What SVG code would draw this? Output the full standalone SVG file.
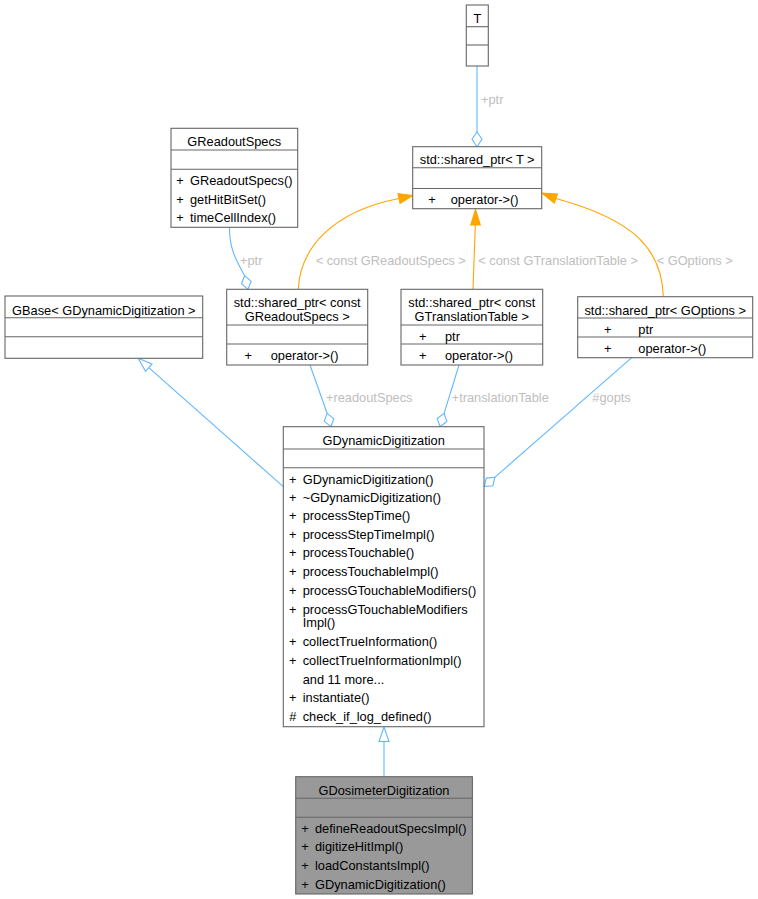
<svg xmlns="http://www.w3.org/2000/svg" width="758" height="899" viewBox="0 0 758 899">
<style>
text{font-family:"Liberation Sans",Arial,Helvetica,sans-serif;font-size:12.8px;fill:#000}
.box{fill:#fff;stroke:#666;stroke-width:1.1}
.sel{fill:#999;stroke:#666;stroke-width:1.1}
.sep{stroke:#666;stroke-width:1.1}
.t{text-anchor:middle}
.pl{text-anchor:middle}
.bl{fill:none;stroke:#63b8ff;stroke-width:1.1}
.or{fill:none;stroke:#ffa500;stroke-width:1.1}
.dia{fill:#fff;stroke:#63b8ff;stroke-width:1.1}
.tri{fill:#fff;stroke:#63b8ff;stroke-width:1.1}
.otri{fill:#ffa500;stroke:#ffa500;stroke-width:1.1}
.lbl{fill:#bebebe}
</style>
<rect width="758" height="899" fill="#fff"/>
<g id="connectors">
  <!-- T -> shared_ptr<T> -->
  <path class="bl" d="M477,66 L477,132"/>
  <polygon class="dia" points="477,146.7 482,139.3 477,132 472,139.3"/>
  <text class="lbl" x="481" y="103.5">+ptr</text>
  <!-- GReadoutSpecs -> shared_ptr<const GReadoutSpecs> -->
  <path class="bl" d="M229.5,227.3 C229,250 238,263 244.6,275.7"/>
  <polygon class="dia" points="248,289.3 251.2,281.3 244.6,275.7 241.5,283.7"/>
  <text class="lbl" x="240" y="264.5">+ptr</text>
  <!-- shared_ptr<const GReadoutSpecs> -> shared_ptr<T> -->
  <path class="or" d="M298.3,289.3 C300,250 330,212 399,198.5"/>
  <polygon class="otri" points="412.7,195.5 400.1,203.4 397.9,193.6"/>
  <text class="lbl" x="315.7" y="264.5">&lt; const GReadoutSpecs &gt;</text>
  <!-- shared_ptr<const GTranslationTable> -> shared_ptr<T> -->
  <path class="or" d="M473,289.3 L475.3,225"/>
  <polygon class="otri" points="475.5,209.5 480.3,225 470.8,225"/>
  <text class="lbl" x="478.3" y="264.5">&lt; const GTranslationTable &gt;</text>
  <!-- shared_ptr<GOptions> -> shared_ptr<T> -->
  <path class="or" d="M663.3,296.7 C662,250 635,220 556,198.5"/>
  <polygon class="otri" points="541.7,193 557.4,194 554.3,203"/>
  <text class="lbl" x="656.7" y="264.5">&lt; GOptions &gt;</text>
  <!-- readoutSpecs -->
  <path class="bl" d="M310,365 L327.1,413.3"/>
  <polygon class="dia" points="331,426.7 333.8,418.6 327.1,413.3 324.2,421.4"/>
  <text class="lbl" x="326" y="401.8">+readoutSpecs</text>
  <!-- translationTable -->
  <path class="bl" d="M459,365 L444.1,413.3"/>
  <polygon class="dia" points="440,426.7 446.8,421.5 444.1,413.3 437.2,418.5"/>
  <text class="lbl" x="451.7" y="401.8">+translationTable</text>
  <!-- gopts -->
  <path class="bl" d="M631.7,357.7 L494.8,477.3"/>
  <polygon class="dia" points="484.3,486.5 492.9,485.7 494.8,477.3 486.3,478.1"/>
  <text class="lbl" x="592.3" y="402">#gopts</text>
  <!-- GDynamicDigitization -> GBase -->
  <path class="bl" d="M283.3,486.7 L148.8,367.6"/>
  <polygon class="tri" points="138.3,358.3 152.1,363.9 145.5,371.3"/>
  <!-- GDosimeterDigitization -> GDynamicDigitization -->
  <path class="bl" d="M384,776.7 L384,741.5"/>
  <polygon class="tri" points="384,727 389,741.5 379,741.5"/>
</g>
<g id="node-T">
  <rect class="box" x="466.3" y="5" width="22" height="61"/>
  <line class="sep" x1="466.3" y1="26.7" x2="488.3" y2="26.7"/>
  <line class="sep" x1="466.3" y1="45" x2="488.3" y2="45"/>
  <text class="t" x="477.3" y="22.5">T</text>
</g>
<g id="node-shared_ptr_T">
  <rect class="box" x="412.7" y="146.7" width="129" height="62"/>
  <line class="sep" x1="412.7" y1="167.7" x2="541.7" y2="167.7"/>
  <line class="sep" x1="412.7" y1="188.5" x2="541.7" y2="188.5"/>
  <text class="t" x="477.2" y="163.7">std::shared_ptr&lt; T &gt;</text>
  <text class="pl" x="432" y="203.5">+</text>
  <text x="450.7" y="203.5">operator-&gt;()</text>
</g>
<g id="node-GReadoutSpecs">
  <rect class="box" x="171" y="128.3" width="126.7" height="99"/>
  <line class="sep" x1="171" y1="150" x2="297.7" y2="150"/>
  <line class="sep" x1="171" y1="169.3" x2="297.7" y2="169.3"/>
  <text class="t" x="234.3" y="146">GReadoutSpecs</text>
  <text class="pl" x="180" y="184.7">+</text>
  <text x="190" y="184.7">GReadoutSpecs()</text>
  <text class="pl" x="180" y="203.5">+</text>
  <text x="190" y="203.5">getHitBitSet()</text>
  <text class="pl" x="180" y="222">+</text>
  <text x="190" y="222">timeCellIndex()</text>
</g>
<g id="node-shared_ptr_GReadoutSpecs">
  <rect class="box" x="226.7" y="289.3" width="141" height="75.7"/>
  <line class="sep" x1="226.7" y1="325" x2="367.7" y2="325"/>
  <line class="sep" x1="226.7" y1="344" x2="367.7" y2="344"/>
  <text class="t" x="297.2" y="307">std::shared_ptr&lt; const</text>
  <text class="t" x="297.2" y="321">GReadoutSpecs &gt;</text>
  <text class="pl" x="248.3" y="359.5">+</text>
  <text x="270.7" y="359.5">operator-&gt;()</text>
</g>
<g id="node-shared_ptr_GTranslationTable">
  <rect class="box" x="401" y="289.3" width="141.7" height="75.7"/>
  <line class="sep" x1="401" y1="325" x2="542.7" y2="325"/>
  <line class="sep" x1="401" y1="344" x2="542.7" y2="344"/>
  <text class="t" x="471.8" y="307">std::shared_ptr&lt; const</text>
  <text class="t" x="471.8" y="321">GTranslationTable &gt;</text>
  <text class="pl" x="422.7" y="341">+</text>
  <text x="445" y="341">ptr</text>
  <text class="pl" x="422.7" y="360">+</text>
  <text x="445" y="360">operator-&gt;()</text>
</g>
<g id="node-shared_ptr_GOptions">
  <rect class="box" x="577.7" y="296.7" width="175" height="61"/>
  <line class="sep" x1="577.7" y1="318" x2="752.7" y2="318"/>
  <line class="sep" x1="577.7" y1="337" x2="752.7" y2="337"/>
  <text class="t" x="665.2" y="314.5">std::shared_ptr&lt; GOptions &gt;</text>
  <text class="pl" x="607.7" y="333.7">+</text>
  <text x="638.3" y="333.7">ptr</text>
  <text class="pl" x="607.7" y="352.7">+</text>
  <text x="638.3" y="352.7">operator-&gt;()</text>
</g>
<g id="node-GBase">
  <rect class="box" x="5" y="296" width="197.7" height="62.3"/>
  <line class="sep" x1="5" y1="317.7" x2="202.7" y2="317.7"/>
  <line class="sep" x1="5" y1="336.7" x2="202.7" y2="336.7"/>
  <text class="t" x="103.8" y="314.5">GBase&lt; GDynamicDigitization &gt;</text>
</g>
<g id="node-GDynamicDigitization">
  <rect class="box" x="283.3" y="426.7" width="200.7" height="300"/>
  <line class="sep" x1="283.3" y1="449" x2="484" y2="449"/>
  <line class="sep" x1="283.3" y1="467.7" x2="484" y2="467.7"/>
  <text class="t" x="383.7" y="445">GDynamicDigitization</text>
  <text class="pl" x="292.7" y="483.5">+</text><text x="302.7" y="483.5">GDynamicDigitization()</text>
  <text class="pl" x="292.7" y="501.8">+</text><text x="302.7" y="501.8">~GDynamicDigitization()</text>
  <text class="pl" x="292.7" y="520.2">+</text><text x="302.7" y="520.2">processStepTime()</text>
  <text class="pl" x="292.7" y="538.8">+</text><text x="302.7" y="538.8">processStepTimeImpl()</text>
  <text class="pl" x="292.7" y="557.2">+</text><text x="302.7" y="557.2">processTouchable()</text>
  <text class="pl" x="292.7" y="576.2">+</text><text x="302.7" y="576.2">processTouchableImpl()</text>
  <text class="pl" x="292.7" y="595.2">+</text><text x="302.7" y="595.2">processGTouchableModifiers()</text>
  <text class="pl" x="292.7" y="613.5">+</text><text x="302.7" y="613.5">processGTouchableModifiers</text>
  <text x="302.7" y="626.8">Impl()</text>
  <text class="pl" x="292.7" y="646.2">+</text><text x="302.7" y="646.2">collectTrueInformation()</text>
  <text class="pl" x="292.7" y="664.5">+</text><text x="302.7" y="664.5">collectTrueInformationImpl()</text>
  <text x="302.7" y="683.8">and 11 more...</text>
  <text class="pl" x="292.7" y="702.2">+</text><text x="302.7" y="702.2">instantiate()</text>
  <text class="pl" x="292.7" y="720.5">#</text><text x="302.7" y="720.5">check_if_log_defined()</text>
</g>
<g id="node-GDosimeterDigitization">
  <rect class="sel" x="295.7" y="776.7" width="176.7" height="117.3"/>
  <line class="sep" x1="295.7" y1="798.3" x2="472.4" y2="798.3"/>
  <line class="sep" x1="295.7" y1="817.3" x2="472.4" y2="817.3"/>
  <text class="t" x="384" y="795">GDosimeterDigitization</text>
  <text class="pl" x="305" y="832.8">+</text><text x="315" y="832.8">defineReadoutSpecsImpl()</text>
  <text class="pl" x="305" y="851.2">+</text><text x="315" y="851.2">digitizeHitImpl()</text>
  <text class="pl" x="305" y="869.5">+</text><text x="315" y="869.5">loadConstantsImpl()</text>
  <text class="pl" x="305" y="888.5">+</text><text x="315" y="888.5">GDynamicDigitization()</text>
</g>
</svg>
